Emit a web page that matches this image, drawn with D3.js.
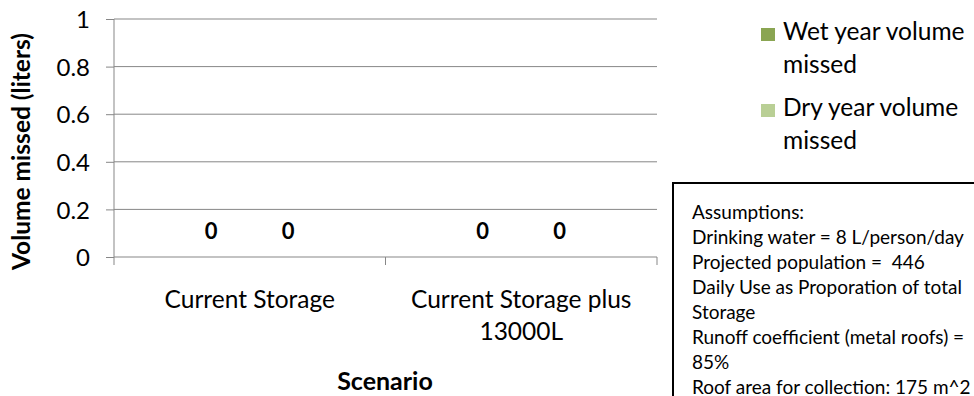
<!DOCTYPE html>
<html>
<head>
<meta charset="utf-8">
<script src="https://cdn.jsdelivr.net/npm/d3@7"></script>
<style>
  html, body { margin: 0; padding: 0; background: #fff; }
  svg { display: block; }
  text { font-family: Lato, "Open Sans", sans-serif; fill: #000; white-space: pre; }
</style>
</head>
<body>
<svg id="chart" width="974" height="396"></svg>
<script>
// ---- data ----
const categories = [["Current Storage"], ["Current Storage plus", "13000L"]];
const seriesNames = ["Wet year volume missed", "Dry year volume missed"];
const legendLines = [["Wet year volume", "missed"], ["Dry year volume", "missed"]];
const wetValues = [0, 0];
const dryValues = [0, 0];
const yTicks = [0, 0.2, 0.4, 0.6, 0.8, 1];
const yTitle = "Volume missed (liters)";
const xTitle = "Scenario";
const assumptions = [
  "Assumptions:",
  "Drinking water = 8 L/person/day",
  "Projected population =  446",
  "Daily Use as Proporation of total",
  "Storage",
  "Runoff coefficient (metal roofs) =",
  "85%",
  "Roof area for collection: 175 m^2"
];
const colors = ["#8aa552", "#b9cf95"];

// ---- layout ----
const svg = d3.select("#chart");
const plot = { left: 114, right: 657, top: 19, bottom: 257 };
const catKeys = categories.map((c, i) => i);

const x = d3.scaleBand().domain(catKeys).range([plot.left, plot.right]).padding(0);
const xInner = d3.scaleBand().domain([0, 1]).range([0, x.bandwidth()]).paddingInner(0).paddingOuter(0.763);
const y = d3.scaleLinear().domain([0, 1]).range([plot.bottom, plot.top]);

// gridlines
svg.append("g").selectAll("line").data(yTicks.filter(d => d > 0)).join("line")
  .attr("x1", plot.left).attr("x2", plot.right)
  .attr("y1", d => y(d)).attr("y2", d => y(d))
  .attr("stroke", "#878787").attr("stroke-width", 1);

// y axis
const yAxis = svg.append("g").attr("transform", `translate(${plot.left},0)`)
  .call(d3.axisLeft(y).tickValues(yTicks).tickSize(8).tickPadding(16).tickFormat(d3.format("")));
yAxis.select(".domain").attr("d", `M0,${plot.top}V${plot.bottom + 8}`).attr("stroke", "#878787");
yAxis.selectAll(".tick line").attr("stroke", "#878787");
yAxis.selectAll(".tick text").attr("font-size", 24).attr("font-family", "Lato").attr("fill", "#000").attr("dy", "0.36em");

// x axis
const xAxisG = svg.append("g").attr("transform", `translate(0,${plot.bottom})`);
xAxisG.append("line").attr("x1", plot.left).attr("x2", plot.right).attr("y1", 0).attr("y2", 0).attr("stroke", "#878787");
xAxisG.selectAll("line.tk").data(catKeys).join("line").attr("class", "tk")
  .attr("x1", d => x(d) + x.bandwidth()).attr("x2", d => x(d) + x.bandwidth())
  .attr("y1", 0).attr("y2", 8).attr("stroke", "#878787");
xAxisG.selectAll("text.cat").data(categories).join("text").attr("class", "cat")
  .attr("text-anchor", "middle").attr("font-size", 24.5)
  .attr("transform", (d, i) => `translate(${x(i) + x.bandwidth() / 2},${51})`)
  .selectAll("tspan").data(d => d).join("tspan")
  .attr("x", 0).attr("dy", (d, i) => i === 0 ? 0 : 32).text(d => d);

// bars (zero height)
const series = [wetValues, dryValues];
series.forEach((vals, s) => {
  svg.append("g").selectAll("rect").data(vals).join("rect")
    .attr("x", (d, i) => x(i) + xInner(s))
    .attr("width", xInner.bandwidth())
    .attr("y", d => y(d)).attr("height", d => y(0) - y(d))
    .attr("fill", colors[s]);
  svg.append("g").selectAll("text").data(vals).join("text")
    .attr("x", (d, i) => x(i) + xInner(s) + xInner.bandwidth() / 2)
    .attr("y", d => y(d) - 18)
    .attr("text-anchor", "middle").attr("font-size", 22).attr("font-weight", "bold")
    .text(d => d);
});

// axis titles
svg.append("text").attr("transform", `translate(30,${(28 + 275) / 2}) rotate(-90)`)
  .attr("text-anchor", "middle").attr("font-size", 24.5).attr("font-weight", "bold").text(yTitle);
svg.append("text").attr("x", 385).attr("y", 390)
  .attr("text-anchor", "middle").attr("font-size", 25).attr("font-weight", "bold").text(xTitle);

// legend
const lg = svg.append("g").attr("transform", "translate(761,0)");
legendLines.forEach((lines, i) => {
  const base = 40 + i * 76;
  lg.append("rect").attr("x", 0).attr("y", base - 12).attr("width", 14).attr("height", 13).attr("fill", colors[i]);
  lg.append("text").attr("font-size", 24.5)
    .selectAll("tspan").data(lines).join("tspan")
    .attr("x", 22).attr("y", (d, j) => base + j * 33).text(d => d);
});

// assumptions box
const bx = svg.append("g");
bx.append("rect").attr("x", 673).attr("y", 183).attr("width", 320).attr("height", 240)
  .attr("fill", "#fff").attr("stroke", "#000").attr("stroke-width", 2);
bx.append("text").attr("font-size", 19)
  .selectAll("tspan").data(assumptions).join("tspan")
  .attr("x", 692).attr("y", (d, i) => 219 + i * 25).text(d => d);
</script>
</body>
</html>
